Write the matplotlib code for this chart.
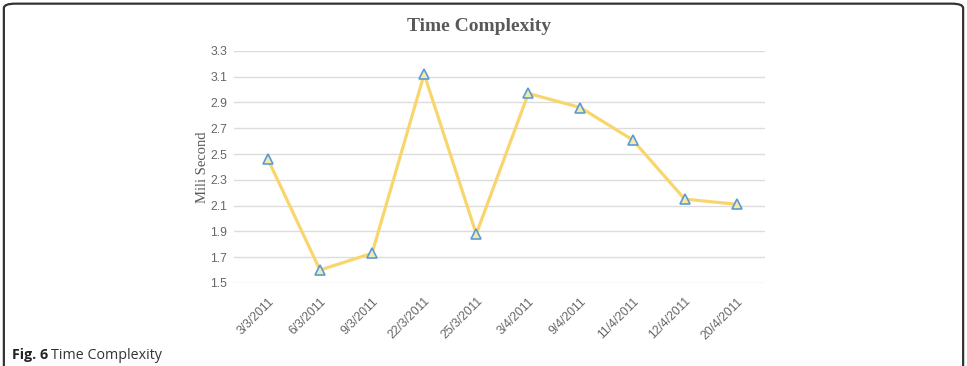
import matplotlib.pyplot as plt
from matplotlib.patches import FancyBboxPatch

# data
dates = ["3/3/2011", "6/3/2011", "9/3/2011", "22/3/2011", "25/3/2011",
         "3/4/2011", "9/4/2011", "11/4/2011", "12/4/2011", "20/4/2011"]
mili_second = [2.46, 1.60, 1.73, 3.12, 1.88, 2.97, 2.86, 2.61, 2.15, 2.11]
y_ticks = [1.5, 1.7, 1.9, 2.1, 2.3, 2.5, 2.7, 2.9, 3.1, 3.3]

GRAY = "#595959"

fig = plt.figure(figsize=(9.67, 3.66), dpi=100)
ax = fig.add_axes([0.242, 0.227, 0.549, 0.634])

x = list(range(len(dates)))
ax.plot(x, mili_second, color="#F8D66D", lw=2.3, zorder=3,
        marker="^", ms=6.5, mfc="#F3E9A8", mec="#5B9BD5", mew=1.2)

ax.set_xlim(-0.65, len(dates) - 0.46)
ax.set_ylim(1.5, 3.3)
ax.set_yticks(y_ticks)
ax.set_yticklabels([f"{v:.1f}" for v in y_ticks])
ax.set_xticks(x)
ax.set_xticklabels(dates, rotation=45, ha="right", rotation_mode="anchor")
ax.grid(axis="y", color="#DCDCDC", lw=1)
ax.set_axisbelow(True)
for s in ax.spines.values():
    s.set_visible(False)
ax.tick_params(length=0, colors="#666666", labelsize=8.8)
ax.tick_params(axis="y", pad=5)
ax.tick_params(axis="x", pad=9)
for lbl in ax.get_xticklabels() + ax.get_yticklabels():
    lbl.set_family("Liberation Sans")

ax.set_ylabel("Mili Second", family="Liberation Serif", fontsize=10.5,
              color=GRAY, labelpad=1)
fig.text(0.495, 0.928, "Time Complexity", family="Liberation Serif",
         fontweight="bold", fontsize=14, color=GRAY, ha="center", va="center")

# caption
t = fig.text(0.012, 0.03, "Fig. 6", family="Open Sans", fontweight="bold",
             fontsize=10.3, color="#222222", va="center")
fig.canvas.draw()
bb = t.get_window_extent().transformed(fig.transFigure.inverted())
fig.text(bb.x1 + 0.003, 0.03, "Time Complexity", family="Open Sans",
         fontsize=10.3, color="#333333", va="center")

# rounded frame around the figure
frame = FancyBboxPatch((0.004, -0.2), 0.992, 1.19,
                       boxstyle="round,pad=0,rounding_size=0.012",
                       transform=fig.transFigure, fill=False,
                       ec="#333333", lw=1.6, clip_on=False)
fig.patches.append(frame)

fig.savefig("out.png", dpi=100)
